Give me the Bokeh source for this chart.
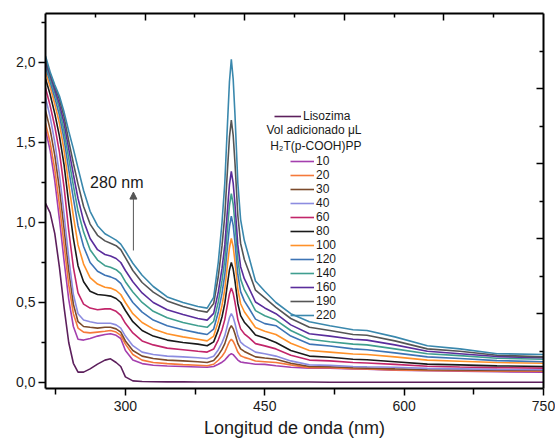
from bokeh.plotting import figure
from bokeh.models import (FixedTicker, LinearAxis, Range1d, Legend, LegendItem, Label,
                          Arrow, NormalHead, CustomJSTickFormatter, ColumnDataSource)
from bokeh.embed import file_html
from bokeh.resources import INLINE

# ---------------- data ----------------
wavelength = [214, 219, 224, 229, 234, 239, 244, 249, 255, 262, 270, 278, 284, 290, 295, 300,
              308, 318, 330, 345, 362, 378, 388,
              395, 400, 404, 407, 410, 412, 414, 416, 418, 421, 424, 428, 433, 440, 450,
              462, 478, 498, 520, 545, 560, 590, 625, 660, 700, 750]

lisozima = [1.12, 1.06, 0.93, 0.72, 0.47, 0.25, 0.12, 0.065, 0.065, 0.085, 0.115, 0.14, 0.148, 0.125, 0.10, 0.035,
            0.01, 0.006, 0.005, 0.004, 0.004, 0.003, 0.003,
            0.003, 0.003, 0.003, 0.003, 0.003, 0.003, 0.003, 0.003, 0.003, 0.003, 0.003, 0.003, 0.003, 0.003, 0.003,
            0.003, 0.003, 0.003, 0.002, 0.002, 0.002, 0.002, 0.002, 0.002, 0.002, 0.002]

vol_10 = [1.58, 1.45, 1.26, 1.02, 0.76, 0.52, 0.35, 0.27, 0.265, 0.275, 0.29, 0.30, 0.305, 0.295, 0.275, 0.20,
          0.14, 0.118, 0.108, 0.103, 0.10, 0.097, 0.095,
          0.100, 0.114, 0.127, 0.140, 0.160, 0.173, 0.180, 0.174, 0.161, 0.140, 0.128, 0.124, 0.120, 0.114, 0.113,
          0.105, 0.095, 0.09, 0.09, 0.085, 0.083, 0.077, 0.073, 0.07, 0.067, 0.065]
vol_20 = [1.62, 1.50, 1.33, 1.11, 0.86, 0.61, 0.43, 0.34, 0.315, 0.31, 0.315, 0.32, 0.325, 0.315, 0.295, 0.24,
          0.175, 0.14, 0.125, 0.118, 0.112, 0.108, 0.105,
          0.114, 0.139, 0.164, 0.190, 0.230, 0.256, 0.270, 0.257, 0.233, 0.190, 0.167, 0.157, 0.148, 0.134, 0.130,
          0.125, 0.11, 0.093, 0.092, 0.087, 0.085, 0.078, 0.075, 0.073, 0.071, 0.07]
vol_30 = [1.70, 1.58, 1.42, 1.21, 0.96, 0.70, 0.49, 0.38, 0.35, 0.345, 0.34, 0.345, 0.345, 0.335, 0.315, 0.26,
          0.20, 0.165, 0.15, 0.14, 0.135, 0.13, 0.125,
          0.137, 0.171, 0.207, 0.243, 0.299, 0.335, 0.355, 0.337, 0.303, 0.243, 0.210, 0.194, 0.180, 0.160, 0.153,
          0.145, 0.12, 0.10, 0.098, 0.092, 0.09, 0.085, 0.08, 0.078, 0.076, 0.075]
vol_40 = [1.78, 1.66, 1.50, 1.30, 1.05, 0.78, 0.55, 0.43, 0.39, 0.38, 0.37, 0.37, 0.37, 0.36, 0.34, 0.29,
          0.23, 0.19, 0.175, 0.165, 0.16, 0.155, 0.15,
          0.164, 0.205, 0.249, 0.293, 0.361, 0.405, 0.430, 0.408, 0.367, 0.293, 0.252, 0.232, 0.215, 0.190, 0.180,
          0.165, 0.135, 0.11, 0.107, 0.10, 0.098, 0.095, 0.088, 0.085, 0.082, 0.08]
vol_60 = [1.84, 1.73, 1.60, 1.44, 1.22, 0.95, 0.72, 0.56, 0.49, 0.465, 0.455, 0.46, 0.46, 0.445, 0.42, 0.37,
          0.31, 0.26, 0.235, 0.215, 0.205, 0.195, 0.19,
          0.209, 0.267, 0.330, 0.393, 0.492, 0.555, 0.590, 0.558, 0.499, 0.393, 0.335, 0.304, 0.280, 0.243, 0.229,
          0.21, 0.17, 0.14, 0.135, 0.125, 0.122, 0.113, 0.102, 0.097, 0.093, 0.09]
vol_80 = [1.90, 1.80, 1.68, 1.54, 1.36, 1.12, 0.90, 0.73, 0.63, 0.57, 0.55, 0.545, 0.54, 0.525, 0.50, 0.45,
          0.38, 0.325, 0.29, 0.265, 0.25, 0.24, 0.23,
          0.254, 0.329, 0.411, 0.494, 0.622, 0.704, 0.750, 0.709, 0.632, 0.494, 0.418, 0.377, 0.345, 0.297, 0.278,
          0.25, 0.20, 0.165, 0.158, 0.145, 0.142, 0.13, 0.115, 0.11, 0.104, 0.10]
vol_100 = [1.94, 1.85, 1.74, 1.62, 1.45, 1.24, 1.04, 0.86, 0.74, 0.655, 0.615, 0.595, 0.59, 0.575, 0.55, 0.50,
           0.43, 0.375, 0.335, 0.305, 0.285, 0.27, 0.26,
           0.290, 0.382, 0.483, 0.584, 0.742, 0.842, 0.900, 0.849, 0.754, 0.584, 0.492, 0.442, 0.402, 0.344, 0.320,
           0.30, 0.245, 0.20, 0.19, 0.178, 0.175, 0.16, 0.14, 0.133, 0.125, 0.12]
vol_120 = [1.97, 1.88, 1.78, 1.67, 1.52, 1.33, 1.15, 0.98, 0.85, 0.75, 0.695, 0.67, 0.66, 0.645, 0.62, 0.57,
           0.50, 0.44, 0.39, 0.355, 0.33, 0.31, 0.30,
           0.334, 0.441, 0.558, 0.675, 0.858, 0.974, 1.040, 0.982, 0.872, 0.675, 0.568, 0.510, 0.464, 0.396, 0.368,
           0.355, 0.29, 0.24, 0.228, 0.21, 0.205, 0.185, 0.16, 0.15, 0.137, 0.13]
vol_140 = [1.99, 1.90, 1.81, 1.71, 1.57, 1.40, 1.23, 1.07, 0.94, 0.83, 0.765, 0.73, 0.72, 0.705, 0.68, 0.63,
           0.565, 0.50, 0.445, 0.405, 0.375, 0.355, 0.345,
           0.383, 0.504, 0.636, 0.768, 0.974, 1.106, 1.180, 1.114, 0.990, 0.768, 0.646, 0.580, 0.527, 0.449, 0.417,
           0.39, 0.325, 0.27, 0.255, 0.24, 0.235, 0.21, 0.18, 0.168, 0.152, 0.145]
vol_160 = [2.00, 1.92, 1.83, 1.74, 1.62, 1.46, 1.30, 1.15, 1.01, 0.90, 0.83, 0.80, 0.79, 0.775, 0.75, 0.70,
           0.63, 0.56, 0.50, 0.455, 0.425, 0.40, 0.39,
           0.432, 0.566, 0.713, 0.860, 1.090, 1.237, 1.320, 1.246, 1.108, 0.860, 0.724, 0.649, 0.590, 0.503, 0.466,
           0.43, 0.36, 0.305, 0.29, 0.27, 0.265, 0.235, 0.195, 0.18, 0.162, 0.155]
vol_190 = [2.02, 1.93, 1.85, 1.77, 1.66, 1.51, 1.37, 1.24, 1.10, 0.99, 0.92, 0.885, 0.87, 0.855, 0.83, 0.78,
           0.70, 0.625, 0.565, 0.51, 0.475, 0.45, 0.44,
           0.493, 0.664, 0.855, 1.045, 1.343, 1.533, 1.640, 1.545, 1.366, 1.045, 0.869, 0.769, 0.691, 0.577, 0.529,
           0.47, 0.40, 0.345, 0.325, 0.30, 0.295, 0.26, 0.21, 0.195, 0.17, 0.16]
vol_220 = [2.04, 1.94, 1.86, 1.79, 1.69, 1.57, 1.46, 1.34, 1.20, 1.07, 0.98, 0.93, 0.91, 0.89, 0.865, 0.82,
           0.745, 0.67, 0.60, 0.535, 0.50, 0.475, 0.465,
           0.532, 0.753, 1.000, 1.248, 1.634, 1.881, 2.020, 1.896, 1.665, 1.248, 1.018, 0.887, 0.784, 0.634, 0.570,
           0.50, 0.43, 0.38, 0.355, 0.33, 0.325, 0.285, 0.23, 0.21, 0.18, 0.175]

series_labels = ["10", "20", "30", "40", "60", "80", "100", "120", "140", "160", "190", "220"]
series_values = [vol_10, vol_20, vol_30, vol_40, vol_60, vol_80, vol_100, vol_120, vol_140, vol_160, vol_190, vol_220]
series_colors = ["#a43fae", "#f5793a", "#7b4a2b", "#8c8ce0", "#c2256a", "#1a1a1a",
                 "#ff9129", "#3d74b5", "#3f9e8f", "#5a2d9c", "#555555", "#3a88ad"]
lisozima_color = "#5c1f5c"

y_ticks = [0.0, 0.5, 1.0, 1.5, 2.0]
y_minor = [0.25, 0.75, 1.25, 1.75, 2.25]
x_ticks = [300, 450, 600, 750]
x_minor = [225, 375, 525, 675]
mirror_ticks = [2, 4, 6, 8]
mirror_minor = [1, 3, 5, 7, 9]

FONT = "Liberation Sans"
TXT = "#1a1a1a"

# ---------------- figure ----------------
p = figure(width=555, height=441, output_backend="svg", toolbar_location=None,
           x_range=Range1d(214, 750), y_range=Range1d(-0.0375, 2.306),
           min_border_left=45, min_border_right=12, min_border_top=13, min_border_bottom=53)
p.xgrid.visible = False
p.ygrid.visible = False
p.outline_line_color = None
p.background_fill_color = "white"
p.border_fill_color = "white"

lw = 1.6
src = ColumnDataSource(dict(x=wavelength, y=lisozima))
r_liso = p.line("x", "y", source=src, line_color=lisozima_color, line_width=lw)

renderers = []
for lab, vals, col in zip(series_labels, series_values, series_colors):
    s = ColumnDataSource(dict(x=wavelength, y=vals))
    renderers.append(p.line("x", "y", source=s, line_color=col, line_width=lw))

# ---------------- axes ----------------
def style_axis(ax):
    ax.axis_line_width = 2
    ax.axis_line_color = "black"
    ax.major_tick_line_width = 1.5
    ax.minor_tick_line_width = 1.5
    ax.major_tick_line_color = "black"
    ax.minor_tick_line_color = "black"
    ax.major_label_text_font = FONT
    ax.major_label_text_color = TXT

ya = p.yaxis[0]
style_axis(ya)
ya.ticker = FixedTicker(ticks=y_ticks, minor_ticks=y_minor)
ya.formatter = CustomJSTickFormatter(code="return tick.toFixed(1).replace('.', ',');")
ya.major_tick_out = 7
ya.major_tick_in = 0
ya.minor_tick_out = 4
ya.minor_tick_in = 0
ya.major_label_text_font_size = "14px"
ya.major_label_standoff = 3

xa = p.xaxis[0]
style_axis(xa)
xa.ticker = FixedTicker(ticks=x_ticks, minor_ticks=x_minor)
xa.major_tick_out = 7
xa.major_tick_in = 0
xa.minor_tick_out = 6
xa.minor_tick_in = 0
xa.major_label_text_font_size = "14px"
xa.major_label_standoff = 5
xa.axis_label = "Longitud de onda (nm)"
xa.axis_label_text_font = FONT
xa.axis_label_text_font_size = "18px"
xa.axis_label_text_font_style = "normal"
xa.axis_label_text_color = TXT
xa.axis_label_standoff = 4

p.extra_x_ranges = {"top": Range1d(0, 10)}
p.extra_y_ranges = {"right": Range1d(0, 10)}
top = LinearAxis(x_range_name="top", ticker=FixedTicker(ticks=mirror_ticks, minor_ticks=mirror_minor))
right = LinearAxis(y_range_name="right", ticker=FixedTicker(ticks=mirror_ticks, minor_ticks=mirror_minor))
for ax in (top, right):
    style_axis(ax)
    ax.major_tick_in = 7
    ax.major_tick_out = 0
    ax.minor_tick_in = 4
    ax.minor_tick_out = 0
    ax.formatter = CustomJSTickFormatter(code="return '';")
    ax.major_label_text_font_size = "8px"
    ax.major_label_standoff = 0
p.add_layout(top, "above")
p.add_layout(right, "right")

# ---------------- legend ----------------
common = dict(border_line_color=None, background_fill_alpha=0, padding=0, margin=0, spacing=0,
              label_standoff=2, glyph_height=12, label_height=12,
              label_text_font=FONT, label_text_font_size="12px", label_text_color=TXT)
leg1 = Legend(items=[LegendItem(label="Lisozima", renderers=[r_liso])],
              location=(229, 265), glyph_width=27, **common)
leg2 = Legend(items=[LegendItem(label=l, renderers=[r]) for l, r in zip(series_labels, renderers)],
              location=(245, 66), glyph_width=24, **common)
p.add_layout(leg1)
p.add_layout(leg2)

p.add_layout(Label(x=503, y=1.58, text="Vol adicionado μL", text_align="center", text_baseline="middle",
                   text_font=FONT, text_font_size="12px", text_color=TXT))
p.add_layout(Label(x=505, y=1.48, text="H₂T(p-COOH)PP", text_align="center", text_baseline="middle",
                   text_font=FONT, text_font_size="12px", text_color=TXT))

# ---------------- 280 nm annotation ----------------
p.add_layout(Label(x=262, y=1.25, text="280 nm", text_align="left", text_baseline="middle",
                   text_font=FONT, text_font_size="16px", text_color=TXT))
p.add_layout(Arrow(end=NormalHead(size=7, fill_color="#555555", line_color="#555555"),
                   x_start=308.6, y_start=0.825, x_end=308.6, y_end=1.19,
                   line_color="#555555", line_width=1))

open("out.html", "w").write(file_html(p, INLINE))
